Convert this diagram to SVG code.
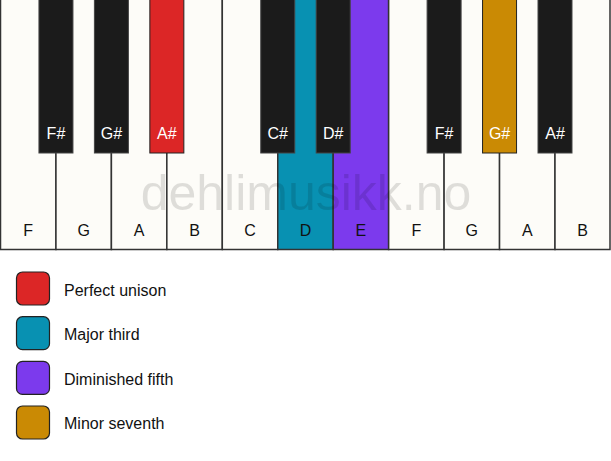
<svg xmlns="http://www.w3.org/2000/svg" width="611" height="461" viewBox="0 0 611 461">
<style>
.w{fill:#fdfcf8;stroke:#333;stroke-width:1.5}
.b{fill:#1b1b1b;stroke:#444;stroke-width:1}
.wl{font-family:"Liberation Sans",Arial,sans-serif;font-size:16px;fill:#111;text-anchor:middle}
.bl{font-family:"Liberation Sans",Arial,sans-serif;font-size:16px;fill:#fff;text-anchor:middle}
.lg{stroke:#222;stroke-width:1.2}
.lt{font-family:"Liberation Sans",Arial,sans-serif;font-size:16px;fill:#111}
.wm{font-family:"Liberation Sans",Arial,sans-serif;font-size:50px;fill:#000;fill-opacity:0.12;text-anchor:middle}
</style>
<rect width="611" height="461" fill="#fff"/>
<g id="white-keys">
<g id="key-F1"><rect class="w" x="0.5" y="-2" width="55.45" height="251.5"/><text class="wl" x="28.2" y="236">F</text></g>
<g id="key-G1"><rect class="w" x="55.95" y="-2" width="55.45" height="251.5"/><text class="wl" x="83.7" y="236">G</text></g>
<g id="key-A1"><rect class="w" x="111.4" y="-2" width="55.45" height="251.5"/><text class="wl" x="139.1" y="236">A</text></g>
<g id="key-B1"><rect class="w" x="166.85" y="-2" width="55.45" height="251.5"/><text class="wl" x="194.6" y="236">B</text></g>
<g id="key-C"><rect class="w" x="222.3" y="-2" width="55.45" height="251.5"/><text class="wl" x="250" y="236">C</text></g>
<g id="key-D"><rect class="w" x="277.75" y="-2" width="55.45" height="251.5" style="fill:#0891b2"/><text class="wl" x="305.5" y="236">D</text></g>
<g id="key-E"><rect class="w" x="333.2" y="-2" width="55.45" height="251.5" style="fill:#7c3aed"/><text class="wl" x="360.9" y="236">E</text></g>
<g id="key-F2"><rect class="w" x="388.65" y="-2" width="55.45" height="251.5"/><text class="wl" x="416.4" y="236">F</text></g>
<g id="key-G2"><rect class="w" x="444.1" y="-2" width="55.45" height="251.5"/><text class="wl" x="471.8" y="236">G</text></g>
<g id="key-A2"><rect class="w" x="499.55" y="-2" width="55.45" height="251.5"/><text class="wl" x="527.3" y="236">A</text></g>
<g id="key-B2"><rect class="w" x="555" y="-2" width="55" height="251.5"/><text class="wl" x="582.7" y="236">B</text></g>
</g>
<g id="black-keys">
<g id="key-Fs1"><rect class="b" x="38.95" y="-2" width="34" height="155"/><text class="bl" x="55.95" y="139">F#</text></g>
<g id="key-Gs1"><rect class="b" x="94.4" y="-2" width="34" height="155"/><text class="bl" x="111.4" y="139">G#</text></g>
<g id="key-As1"><rect class="b" x="149.85" y="-2" width="34" height="155" style="fill:#dc2626;stroke:#222"/><text class="bl" x="166.85" y="139">A#</text></g>
<g id="key-Cs"><rect class="b" x="260.75" y="-2" width="34" height="155"/><text class="bl" x="277.75" y="139">C#</text></g>
<g id="key-Ds"><rect class="b" x="316.2" y="-2" width="34" height="155"/><text class="bl" x="333.2" y="139">D#</text></g>
<g id="key-Fs2"><rect class="b" x="427.1" y="-2" width="34" height="155"/><text class="bl" x="444.1" y="139">F#</text></g>
<g id="key-Gs2"><rect class="b" x="482.55" y="-2" width="34" height="155" style="fill:#ca8a04;stroke:#222"/><text class="bl" x="499.55" y="139">G#</text></g>
<g id="key-As2"><rect class="b" x="538" y="-2" width="34" height="155"/><text class="bl" x="555" y="139">A#</text></g>
</g>
<text class="wm" x="306" y="210">dehlimusikk.no</text>
<g id="legend">
<g id="legend-unison"><rect class="lg" x="16.5" y="272" width="33" height="33" rx="6" fill="#dc2626"/><text class="lt" x="64" y="295.5">Perfect unison</text></g>
<g id="legend-third"><rect class="lg" x="16.5" y="316.7" width="33" height="33" rx="6" fill="#0891b2"/><text class="lt" x="64" y="340">Major third</text></g>
<g id="legend-fifth"><rect class="lg" x="16.5" y="361.4" width="33" height="33" rx="6" fill="#7c3aed"/><text class="lt" x="64" y="384.6">Diminished fifth</text></g>
<g id="legend-seventh"><rect class="lg" x="16.5" y="406" width="33" height="33" rx="6" fill="#ca8a04"/><text class="lt" x="64" y="429.2">Minor seventh</text></g>
</g>
</svg>
